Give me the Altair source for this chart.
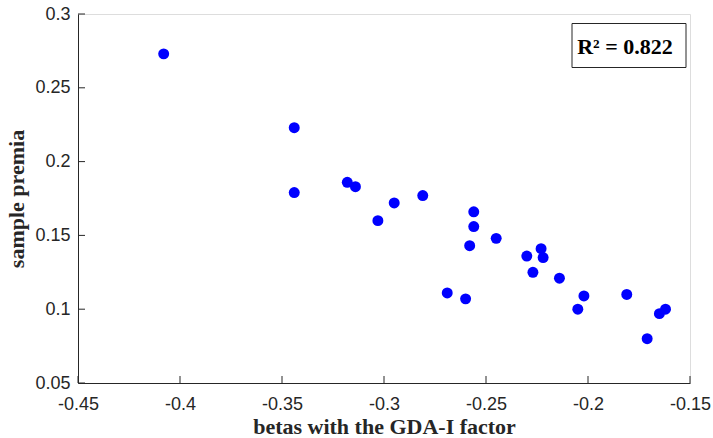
import altair as alt
import pandas as pd

beta = [-0.408, -0.344, -0.344, -0.318, -0.314, -0.281, -0.295, -0.256, -0.303,
        -0.256, -0.245, -0.258, -0.223, -0.230, -0.222, -0.227, -0.214, -0.269,
        -0.260, -0.202, -0.181, -0.205, -0.162, -0.165, -0.171]
premia = [0.273, 0.223, 0.179, 0.186, 0.183, 0.177, 0.172, 0.166, 0.160,
          0.156, 0.148, 0.143, 0.141, 0.136, 0.135, 0.125, 0.121, 0.111,
          0.107, 0.109, 0.110, 0.100, 0.100, 0.097, 0.080]
x_ticks = [-0.45, -0.4, -0.35, -0.3, -0.25, -0.2, -0.15]
y_ticks = [0.05, 0.1, 0.15, 0.2, 0.25, 0.3]
r2_label = ["R² = 0.822"]

W, H = 612, 369
AX = "#262626"

df = pd.DataFrame({"beta": beta, "premia": premia})
xs = alt.Scale(domain=[-0.45, -0.15], nice=False, zero=False)
ys = alt.Scale(domain=[0.05, 0.3], nice=False, zero=False)

x_axis = alt.Axis(values=x_ticks, labelExpr="'' + datum.value", title="betas with the GDA-I factor",
                  grid=False, ticks=False, domainColor=AX, labelColor=AX, labelFont="Liberation Sans",
                  labelFontSize=18, labelPadding=12, titleFont="Liberation Serif", titleFontWeight="bold",
                  titleFontSize=22, titleColor=AX, titleBaseline="alphabetic", titleY=50,
                  labelFlush=False, labelOverlap=False)
y_axis = alt.Axis(values=y_ticks, labelExpr="'' + datum.value", title="sample premia",
                  grid=False, ticks=False, domainColor=AX, labelColor=AX, labelFont="Liberation Sans",
                  labelFontSize=18, labelPadding=8, titleFont="Liberation Serif", titleFontWeight="bold",
                  titleFontSize=22, titleColor=AX, titleBaseline="alphabetic", titleX=-55, titleAngle=270,
                  labelFlush=False, labelOverlap=False)

points = alt.Chart(df).mark_circle(size=120, color="#0000FF", opacity=1).encode(
    x=alt.X("beta:Q", scale=xs, axis=x_axis),
    y=alt.Y("premia:Q", scale=ys, axis=y_axis),
)

xt = alt.Chart(pd.DataFrame({"beta": x_ticks})).mark_rule(color=AX, strokeWidth=1).encode(
    x=alt.X("beta:Q", scale=xs), y=alt.value(H), y2=alt.value(H - 7))
yt = alt.Chart(pd.DataFrame({"premia": y_ticks})).mark_rule(color=AX, strokeWidth=1).encode(
    y=alt.Y("premia:Q", scale=ys), x=alt.value(0), x2=alt.value(7))

lab = pd.DataFrame({"label": r2_label})
box = alt.Chart(lab).mark_rect(fill="white", stroke=AX, strokeWidth=1).encode(
    x=alt.value(494), x2=alt.value(608), y=alt.value(9.5), y2=alt.value(53.5))
txt = alt.Chart(lab).mark_text(font="Liberation Serif", fontWeight="bold", fontSize=22,
                               align="center", baseline="alphabetic", color="black").encode(
    x=alt.value(547), y=alt.value(39.5), text="label:N")

chart = alt.layer(xt, yt, points, box, txt).properties(
    width=W, height=H, autosize="none",
    padding={"left": 78, "top": 14, "right": 23, "bottom": 55},
).configure_view(stroke=None).configure(background="white")

chart.save("out.html", embed_options={"renderer": "svg", "actions": False})
